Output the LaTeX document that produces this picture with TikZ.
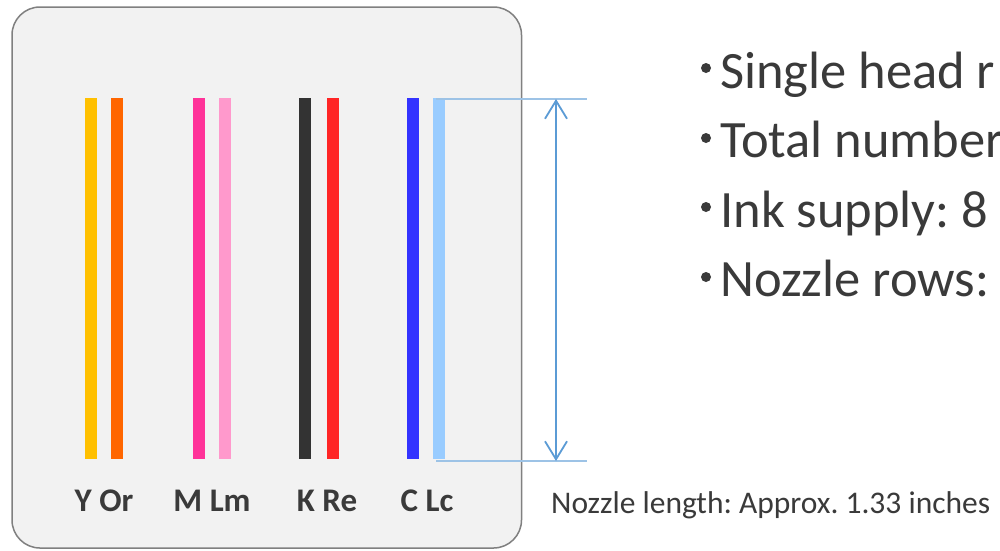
\documentclass[tikz,border=0pt]{standalone}
\usepackage{fontspec}
\setmainfont{Carlito}
\usetikzlibrary{arrows.meta}
\frenchspacing
\definecolor{cY}{HTML}{FFC000}
\definecolor{cOr}{HTML}{FF6600}
\definecolor{cM}{HTML}{FF3399}
\definecolor{cLm}{HTML}{FF99CC}
\definecolor{cK}{HTML}{333333}
\definecolor{cRe}{HTML}{FF2525}
\definecolor{cC}{HTML}{3333FF}
\definecolor{cLc}{HTML}{99CCFF}
\definecolor{boxfill}{HTML}{F2F2F2}
\definecolor{boxline}{HTML}{808080}
\definecolor{reflc}{HTML}{9DC3E6}
\definecolor{arrc}{HTML}{5B9BD5}
\definecolor{txt}{HTML}{3A3A3A}
\begin{document}
\begin{tikzpicture}[x=1pt,y=-1pt,
  bar/.style={inner sep=0pt, minimum width=11.7pt, minimum height=361pt, draw=none},
  lab/.style={anchor=base, inner sep=0pt, text=txt, font=\fontsize{33}{40}\selectfont\bfseries},
  bigtxt/.style={anchor=base west, inner sep=0pt, text=txt, font=\fontsize{52.5}{62}\selectfont},
  bul/.style={circle, fill=txt, draw=none, inner sep=0pt, minimum size=10pt},
  smalltxt/.style={anchor=base west, inner sep=0pt, text=txt, font=\fontsize{31.5}{38}\selectfont},
  refline/.style={draw=reflc, line width=1.8pt},
  dimarrow/.style={draw=arrc, line width=1.8pt, {Straight Barb[length=18pt,width=22pt]}-{Straight Barb[length=18pt,width=22pt]}}
]
\useasboundingbox (0,0) rectangle (1000,550);
\clip (0,0) rectangle (1000,550);
\fill[white] (0,0) rectangle (1000,550);
\draw[fill=boxfill, draw=boxline, line width=1.5pt, rounded corners=28pt] (12,7) rectangle (521.5,548);

\node[bar, fill=cY]  (Y)  at (91,278.5) {};
\node[bar, fill=cOr] (Or) at (117,278.5) {};
\node[bar, fill=cM]  (M)  at (199,278.5) {};
\node[bar, fill=cLm] (Lm) at (225,278.5) {};
\node[bar, fill=cK]  (K)  at (305,278.5) {};
\node[bar, fill=cRe] (Re) at (333,278.5) {};
\node[bar, fill=cC]  (C)  at (413,278.5) {};
\node[bar, fill=cLc] (Lc) at (439,278.5) {};

\node[lab] (lY) at (104,511) {Y Or};
\node[lab] (lM) at (212,511) {M Lm};
\node[lab] (lK) at (327,511) {K Re};
\node[lab] (lC) at (427,511) {C Lc};

\coordinate (t0) at (436,99);
\coordinate (t1) at (587,99);
\coordinate (b0) at (436,461);
\coordinate (b1) at (587,461);
\coordinate (at) at (556,99);
\coordinate (ab) at (556,461);
\draw[refline] (t0) -- (t1);
\draw[refline] (b0) -- (b1);
\draw[dimarrow] (at) -- (ab);

\node[bul] (d1) at (706,68)  {};
\node[bul] (d2) at (706,138) {};
\node[bul] (d3) at (706,207) {};
\node[bul] (d4) at (706,277) {};
\node[bigtxt] (s1) at (720,88)  {Single head r};
\node[bigtxt] (s2) at (720,157) {Total number};
\node[bigtxt] (s3) at (720,227) {Ink supply: 8};
\node[bigtxt] (s4) at (720,296) {Nozzle rows:};

\node[smalltxt] (len) at (551,513) {Nozzle length: Approx. 1.33 inches};
\end{tikzpicture}
\end{document}
